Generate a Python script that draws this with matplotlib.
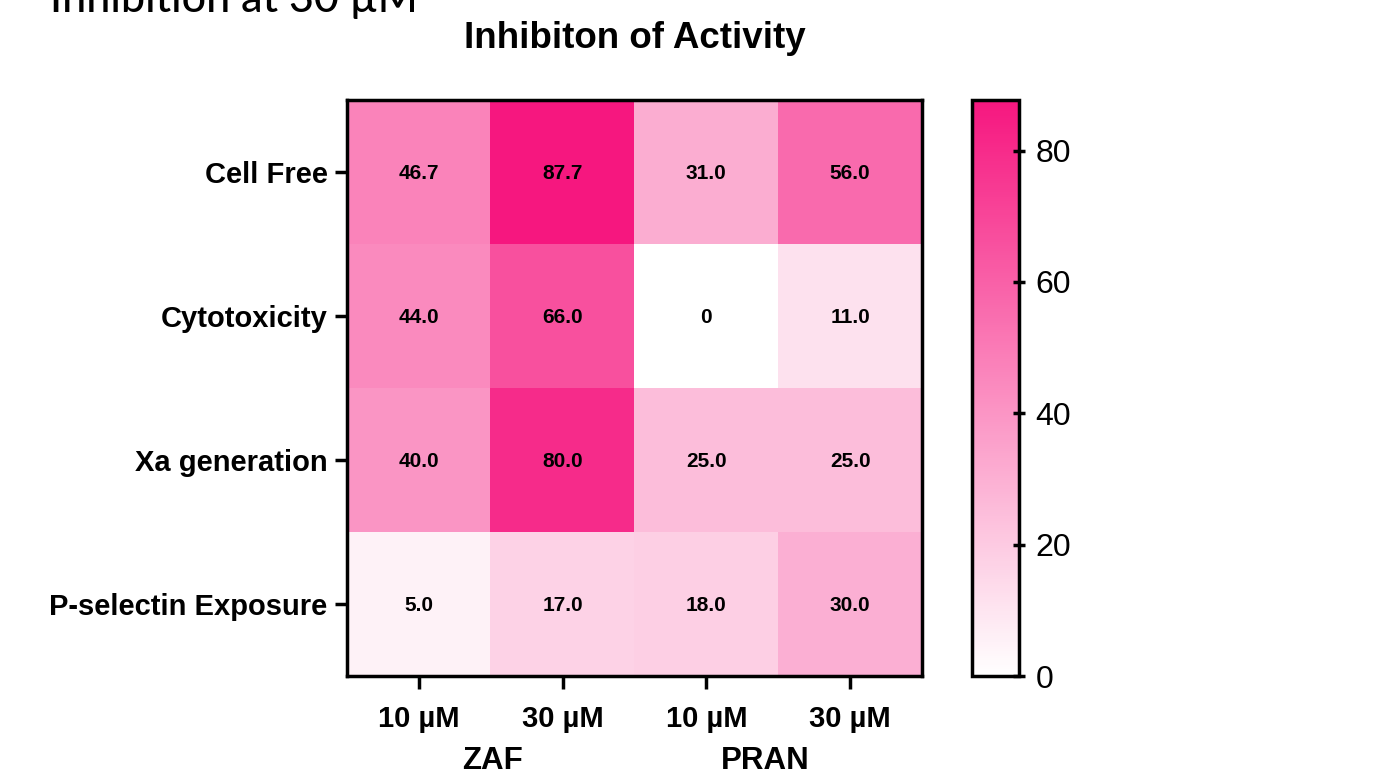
import numpy as np
import matplotlib
matplotlib.use("Agg")
import matplotlib.pyplot as plt
import matplotlib.transforms as mtransforms
from matplotlib.colors import LinearSegmentedColormap

plt.rcParams['font.family'] = ['Liberation Sans', 'DejaVu Sans']

rows = ["Cell Free", "Cytotoxicity", "Xa generation", "P-selectin Exposure"]
cols = ["10 µM", "30 µM", "10 µM", "30 µM"]
groups = ["ZAF", "PRAN"]
group_pos = [0.51, 2.41]
values = np.array([
    [46.7, 87.7, 31.0, 56.0],
    [44.0, 66.0, 0.0, 11.0],
    [40.0, 80.0, 25.0, 25.0],
    [5.0, 17.0, 18.0, 30.0],
])
labels = [
    ["46.7", "87.7", "31.0", "56.0"],
    ["44.0", "66.0", "0", "11.0"],
    ["40.0", "80.0", "25.0", "25.0"],
    ["5.0", "17.0", "18.0", "30.0"],
]

cmap = LinearSegmentedColormap.from_list("pink", ["#FFFFFF", "#F6177F"])
vmin, vmax = 0, 87.7

fig = plt.figure(figsize=(13.9, 7.78), dpi=100)
W, H = 1390, 778
ax = fig.add_axes([347 / W, 1 - 676 / H, (922 - 347) / W, (676 - 100) / H])
cax = fig.add_axes([972 / W, 1 - 676 / H, (1019 - 972) / W, (676 - 100) / H])

im = ax.imshow(values, cmap=cmap, vmin=vmin, vmax=vmax, aspect='auto')
for i in range(len(rows)):
    for j in range(len(cols)):
        ax.text(j, i + 0.01, labels[i][j], ha='center', va='center', fontsize=15,
                fontweight='bold', color='black')

ax.set_xticks(range(len(cols)))
ax.set_xticklabels(cols, fontsize=21, fontweight='bold')
ax.set_yticks(range(len(rows)))
ax.set_yticklabels(rows, fontsize=21, fontweight='bold')
ax.tick_params(axis='both', width=2.5, length=9, pad=5)
ax.tick_params(axis='x', pad=12)
for s in ax.spines.values():
    s.set_linewidth(2.5)

fig.text(634.5 / W, 1 - 38 / H, "Inhibiton of Activity", fontsize=26.5,
         fontweight='bold', ha='center', va='center')

grp_tr = mtransforms.blended_transform_factory(ax.transData, fig.transFigure)
for g, p in zip(groups, group_pos):
    ax.text(p, 1 - 761 / H, g, transform=grp_tr,
            ha='center', va='center', fontsize=22.5, fontweight='bold')

cb = fig.colorbar(im, cax=cax)
cb.set_ticks([0, 20, 40, 60, 80])
cb.ax.tick_params(labelsize=23, width=2.5, length=8, direction='inout', pad=8)
cb.outline.set_linewidth(2.5)

fig.text(50 / W, 1 - 12 / H, "Inhibition at 30 µM", fontsize=31, ha='left', va='baseline',
         family=['Lato', 'DejaVu Sans'], fontweight='medium')

fig.savefig("out.png", dpi=100)
